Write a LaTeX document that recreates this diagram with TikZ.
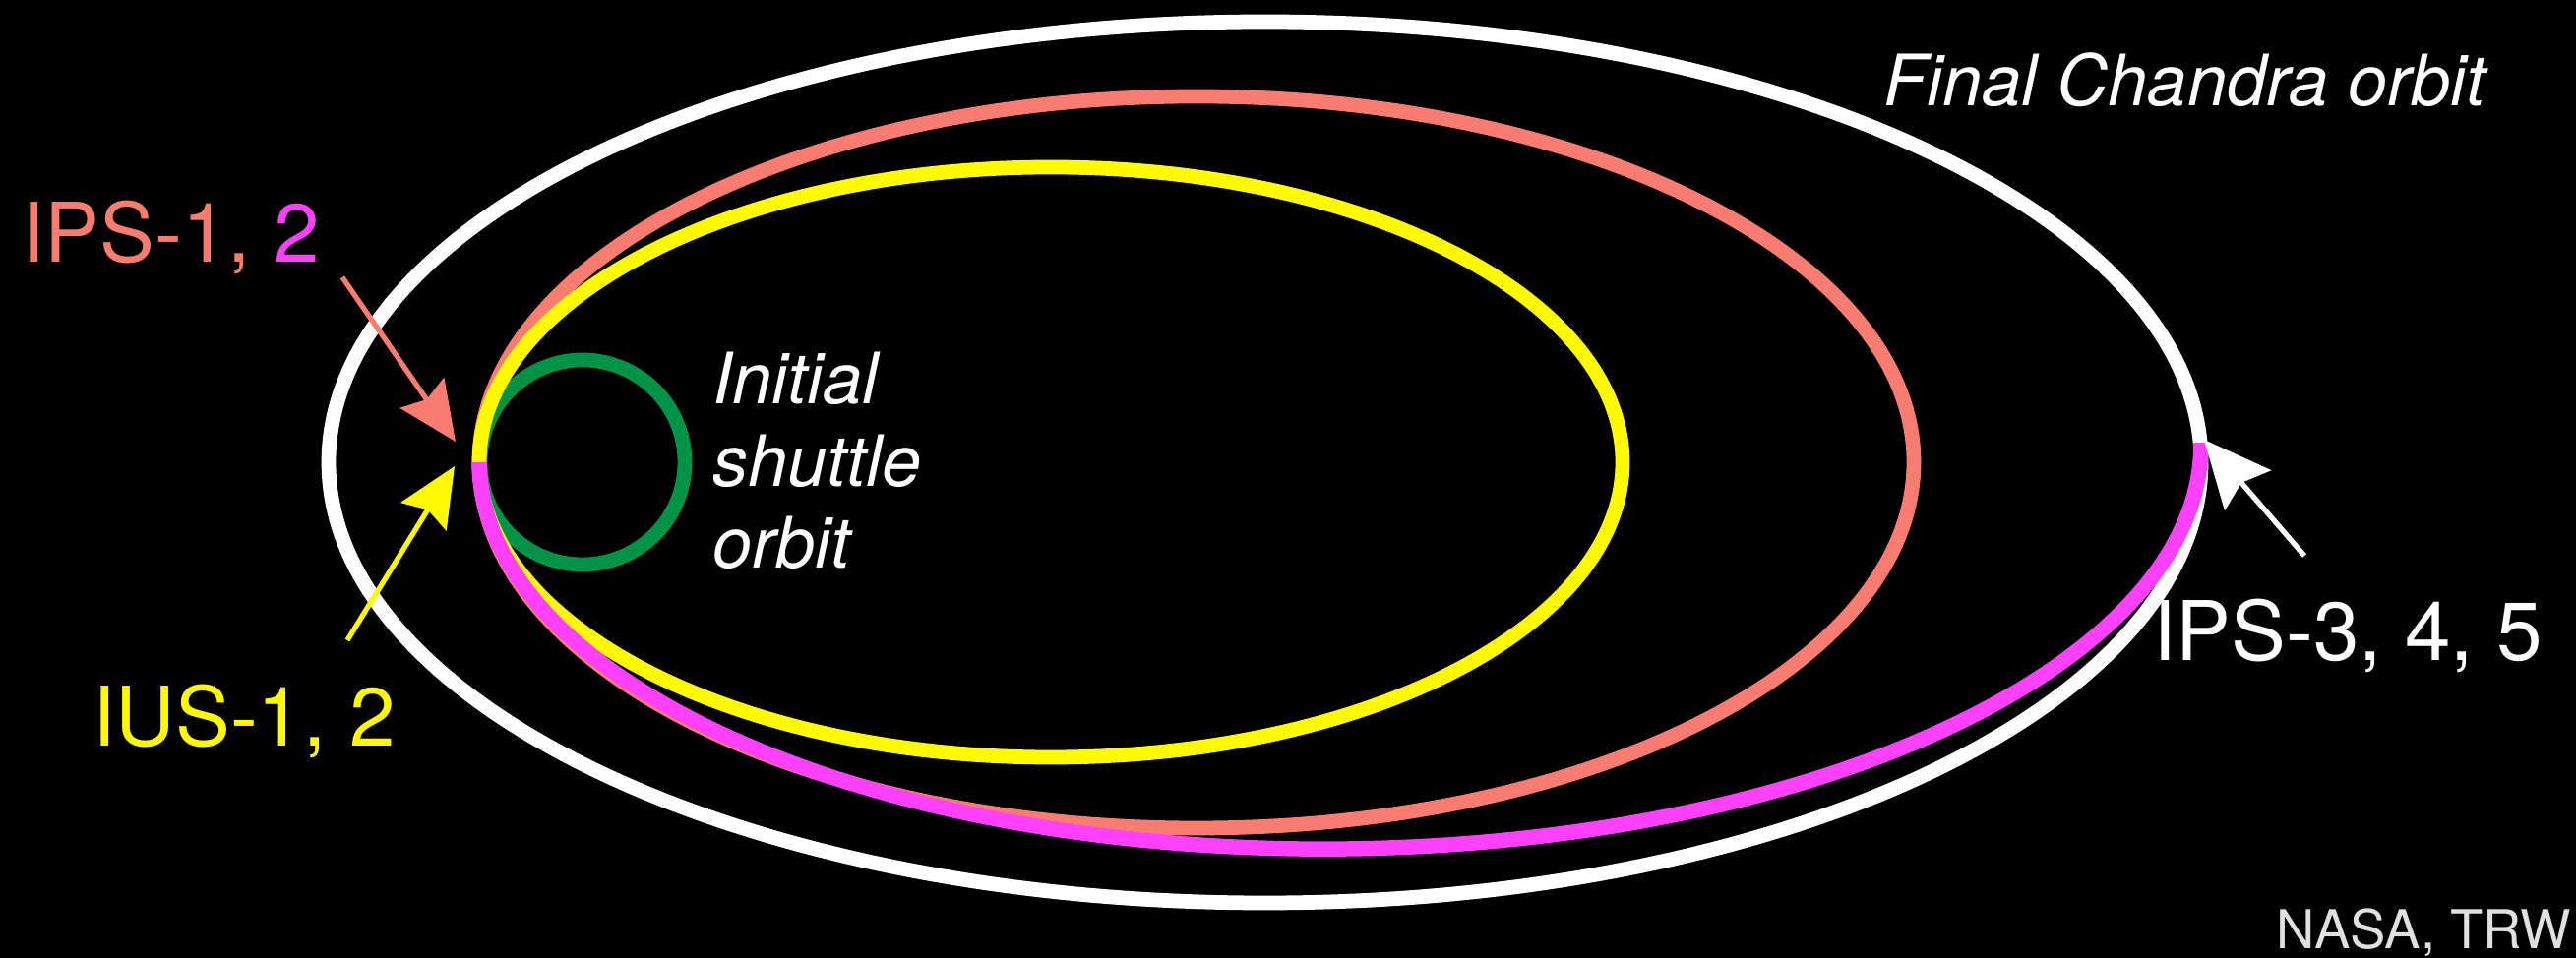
\documentclass[tikz,border=0pt]{standalone}
\usepackage{fontspec}
\setmainfont{TeX Gyre Heros}
\usetikzlibrary{arrows.meta, positioning, calc}
\definecolor{fondoNegro}{RGB}{0,0,0}
\definecolor{orbitaSalmon}{RGB}{248,124,112}
\definecolor{orbitaAmarilla}{RGB}{255,250,0}
\definecolor{orbitaMagenta}{RGB}{255,64,255}
\definecolor{orbitaVerde}{RGB}{0,146,69}
\definecolor{textoCredito}{gray}{0.88}

\begin{document}
\begin{tikzpicture}[
  font=\fontsize{23.8}{28}\selectfont,
  orbita/.style={line width=4.2pt},
  flecha/.style={-{Stealth[length=6mm, width=5.4mm, inset=0.8mm]}, line width=1.5pt},
  etiqueta/.style={anchor=base west, inner sep=0pt},
  nota/.style={anchor=base west, inner sep=0pt, align=left, text=white,
               font=\fontsize{20.5}{23.8}\selectfont\itshape},
  credito/.style={anchor=base east, inner sep=0pt, text=textoCredito,
                  font=\fontsize{15.5}{18}\selectfont}
]
\fill[fondoNegro] (0,0) rectangle (26.18,-9.74);
\useasboundingbox (0,0) rectangle (26.18,-9.74);

% Orbitas, de la final a la inicial.
\draw[orbita, white] (12.855,-4.70) ellipse[x radius=9.515, y radius=4.48];
\draw[orbita, orbitaVerde] (5.92,-4.70) circle[radius=1.04];
\draw[orbita, orbitaSalmon] (12.16,-4.70) ellipse[x radius=7.29, y radius=3.72];
\draw[orbita, orbitaAmarilla] (10.68,-4.70) ellipse[x radius=5.81, y radius=3.00];
\draw[orbita, orbitaMagenta, line width=4.4pt, rotate around={0.65:(4.87,-4.70)}]
  (4.87,-4.70) arc[start angle=180, end angle=360, x radius=8.75, y radius=4.03];

% Rotulos (la base de la nota es la de su ultima linea).
\node[etiqueta, text=orbitaSalmon] (ips12) at (0.22,-2.67) {IPS-1, \textcolor{orbitaMagenta}{2}};
\node[etiqueta, text=orbitaAmarilla] (ius12) at (0.94,-7.59) {IUS-1, 2};
\node[etiqueta, text=white] (ips345) at (21.88,-6.72) {IPS-3, 4, 5};
\node[nota] (final) at (19.14,-1.08) {Final Chandra orbit};
\node[nota] (inicial) at (7.24,-5.78) {Initial\\ shuttle\\ orbit};
\node[credito] (fuente) at (26.14,-9.65) {NASA, TRW};

% Flechas hacia los puntos de encendido.
\coordinate (colaIPS) at (3.48,-2.82);
\coordinate (puntaIPS) at (4.63,-4.49);
\coordinate (colaIUS) at (3.53,-6.51);
\coordinate (puntaIUS) at (4.62,-4.74);
\coordinate (colaFinal) at (23.42,-5.65);
\coordinate (puntaFinal) at (22.40,-4.47);
\draw[flecha, orbitaSalmon] (colaIPS) -- (puntaIPS);
\draw[flecha, orbitaAmarilla] (colaIUS) -- (puntaIUS);
\draw[flecha, white, -{Stealth[length=6.8mm, width=6.2mm, inset=1mm]}] (colaFinal) -- (puntaFinal);

\end{tikzpicture}
\end{document}
